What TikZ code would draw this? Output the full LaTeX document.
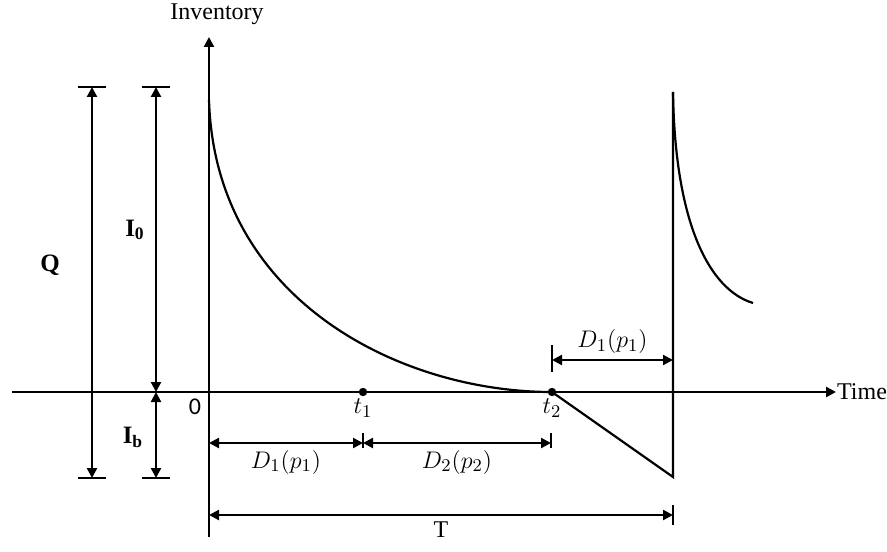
\documentclass[tikz,border=0pt]{standalone}
\usepackage{fontspec}
\setmainfont{Liberation Serif}
\newfontfamily\zerofont{Carlito}
\usetikzlibrary{arrows.meta}
\tikzset{
  tip/.style={-{Triangle[length=5pt,width=5pt]}},
  dim/.style={{Triangle[length=5pt,width=5pt]}-{Triangle[length=5pt,width=5pt]}},
  lbl/.style={font=\fontsize{12}{14}\selectfont,inner sep=1pt},
  mlbl/.style={font=\fontsize{13}{15}\selectfont,inner sep=1pt},
  blbl/.style={font=\fontsize{12.5}{14}\selectfont\bfseries,inner sep=1pt},
}
\begin{document}
\begin{tikzpicture}[x=0.5pt,y=-0.5pt,line width=1.1pt]
\useasboundingbox (0,0) rectangle (887,551);
% axes
\coordinate (xs) at (12,392); \coordinate (o) at (209,392);
\coordinate (ys) at (209,537); \coordinate (ye) at (209,37);
\node[lbl,right,inner sep=0pt] (time) at (836,392) {Time};
\node[lbl] (inv) at (217,14) {Inventory};
\draw[tip,line width=1.4pt] (xs) -- (time.west);
\draw[tip] (ys) -- (ye);
\node[font=\fontsize{12}{14}\zerofont] (zero) at (195,407) {0};
% time points
\coordinate (t1) at (363,392); \coordinate (t2) at (552,392);
\foreach \p in {t1,t2} { \fill (\p) circle (4.2); }
\node[mlbl,below] (t1l) at (363,396) {$t_1$};
\node[mlbl,below] (t2l) at (552,396) {$t_2$};
% inventory curves
\draw (209,100) .. controls (215,300) and (400,392) .. (t2);
\coordinate (low) at (673,477); \coordinate (high) at (673,92);
\draw (t2) -- (low) -- (high);
\draw (high) .. controls (675,225) and (710,290) .. (753,303);
% Q, I0, Ib
\coordinate (qtop) at (92,87); \coordinate (qbot) at (92,478);
\coordinate (itop) at (156,87); \coordinate (iax) at (156,392); \coordinate (ibot) at (156,478);
\foreach \c in {qtop,qbot,itop,ibot} { \draw ([xshift=-7pt]\c) -- ([xshift=7pt]\c); }
\draw[dim] (qtop) -- (qbot);
\draw[dim] (itop) -- (iax);
\draw[dim] (iax) -- (ibot);
\node[blbl] (q) at (50,265) {Q};
\node[blbl] (i0) at (135,230) {I\textsubscript{0}};
\node[blbl] (ib) at (133,437) {I\textsubscript{b}};
% durations
\coordinate (d1a) at (552,360); \coordinate (d1b) at (673,360);
\draw ([yshift=7.5pt]d1a) -- ([yshift=-6pt]d1a);
\draw[dim] (d1a) -- node[mlbl,above=1.5pt] (d1r) {$D_1(p_1)$} (d1b);
\coordinate (b0) at (209,443); \coordinate (b1) at (363,443); \coordinate (b2) at (551,443);
\foreach \c in {b1,b2} { \draw ([yshift=5pt]\c) -- ([yshift=-2.5pt]\c); }
\draw[dim] (b0) -- node[mlbl,below=2pt] (d1l) {$D_1(p_1)$} (b1);
\draw[dim] (b1) -- node[mlbl,below=2pt] (d2l) {$D_2(p_2)$} (b2);
\coordinate (c0) at (209,515); \coordinate (c1) at (673,515);
\draw ([yshift=5pt]c1) -- ([yshift=-5pt]c1);
\draw[dim] (c0) -- node[lbl,below=2pt] (tl) {T} (c1);
\end{tikzpicture}
\end{document}
